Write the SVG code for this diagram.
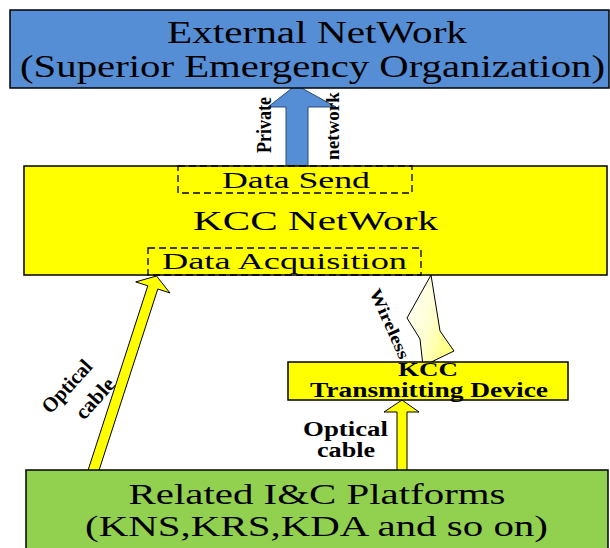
<svg xmlns="http://www.w3.org/2000/svg" width="610" height="548" viewBox="0 0 610 548">
  <defs>
    <linearGradient id="bolt" x1="0" y1="0" x2="1" y2="0.6">
      <stop offset="0" stop-color="#ffffff"/>
      <stop offset="0.6" stop-color="#ffffd0"/>
      <stop offset="1" stop-color="#ffff80"/>
    </linearGradient>
    <style>
      .serif { font-family: "Liberation Serif", "Times New Roman", serif; fill: #000; }
      .bold { font-weight: bold; }
      .box { stroke: #000; stroke-width: 1.5; }
      .dash { fill: none; stroke: #000; stroke-width: 1.3; stroke-dasharray: 7 4; }
      .yarrow { fill: #ffff00; stroke: #000; stroke-width: 1; stroke-linejoin: miter; }
    </style>
  </defs>
  <rect width="610" height="548" fill="#ffffff"/>

  <g id="connectors">
    <polygon id="private-network-arrow" points="286,168 286,107 268,107 296,85 336,107 308,107 308,168" fill="#558ed5" stroke="#2b4a78" stroke-width="1"/>
    <polygon id="optical-left" class="yarrow" points="86.5,475 147.8,285.8 135.7,281.9 156.5,276 169.9,292.9 157.8,289 97.5,475"/>
    <polygon id="optical-right" class="yarrow" points="397,475 397,412 384,412 402,400 419,412 407,412 407,475"/>
    <polygon id="wireless-bolt" points="431,275 440,331 454,351 423,366 420,339 407,318" fill="url(#bolt)" stroke="#000" stroke-width="1"/>
    <text class="serif bold" font-size="20" text-anchor="middle" textLength="56" lengthAdjust="spacingAndGlyphs" transform="translate(270.5,125) rotate(-90)">Private</text>
    <text class="serif bold" font-size="19" text-anchor="middle" textLength="68" lengthAdjust="spacingAndGlyphs" transform="translate(338.5,126) rotate(-90)">network</text>
    <text class="serif bold" font-size="17" text-anchor="middle" textLength="75" lengthAdjust="spacingAndGlyphs" transform="translate(384.5,326) rotate(66)">Wireless</text>
    <text class="serif bold" font-size="21" text-anchor="middle" textLength="64" lengthAdjust="spacingAndGlyphs" transform="translate(72,391) rotate(-48)">Optical</text>
    <text class="serif bold" font-size="21" text-anchor="middle" textLength="48" lengthAdjust="spacingAndGlyphs" transform="translate(100,403) rotate(-48)">cable</text>
    <text class="serif bold" font-size="20" text-anchor="middle" x="345.5" y="436" textLength="85" lengthAdjust="spacingAndGlyphs">Optical</text>
    <text class="serif bold" font-size="20" text-anchor="middle" x="346" y="457" textLength="58" lengthAdjust="spacingAndGlyphs">cable</text>
  </g>

  <g id="external-network">
    <rect class="box" x="10" y="10" width="599" height="78" fill="#558ed5"/>
    <text class="serif" font-size="31" text-anchor="middle" x="317" y="43" textLength="300" lengthAdjust="spacingAndGlyphs">External NetWork</text>
    <text class="serif" font-size="31" text-anchor="middle" x="312.5" y="77" textLength="585" lengthAdjust="spacingAndGlyphs">(Superior Emergency Organization)</text>
  </g>

  <g id="kcc-network">
    <rect class="box" x="24" y="166" width="583" height="109" fill="#ffff00"/>
    <text class="serif" font-size="28" text-anchor="middle" x="315.5" y="230" textLength="245" lengthAdjust="spacingAndGlyphs">KCC NetWork</text>
  </g>

  <g id="data-send">
    <rect class="dash" x="178" y="166" width="234" height="27"/>
    <text class="serif" font-size="24" text-anchor="middle" x="296" y="188" textLength="148" lengthAdjust="spacingAndGlyphs">Data Send</text>
  </g>

  <g id="data-acquisition">
    <rect class="dash" x="148" y="248" width="273" height="27"/>
    <text class="serif" font-size="24" text-anchor="middle" x="284.5" y="269" textLength="245" lengthAdjust="spacingAndGlyphs">Data Acquisition</text>
  </g>

  <g id="kcc-transmitting-device">
    <rect class="box" x="288" y="362" width="280" height="38" fill="#ffff00"/>
    <text class="serif bold" font-size="19" text-anchor="middle" x="428" y="376" textLength="60" lengthAdjust="spacingAndGlyphs">KCC</text>
    <text class="serif bold" font-size="20" text-anchor="middle" x="429" y="397" textLength="238" lengthAdjust="spacingAndGlyphs">Transmitting Device</text>
  </g>

  <g id="related-platforms">
    <rect class="box" x="26" y="470" width="582" height="82" fill="#92d050"/>
    <text class="serif" font-size="29" text-anchor="middle" x="317" y="504" textLength="377" lengthAdjust="spacingAndGlyphs">Related I&amp;C Platforms</text>
    <text class="serif" font-size="29" text-anchor="middle" x="316.5" y="536" textLength="463" lengthAdjust="spacingAndGlyphs">(KNS,KRS,KDA and so on)</text>
  </g>
</svg>
